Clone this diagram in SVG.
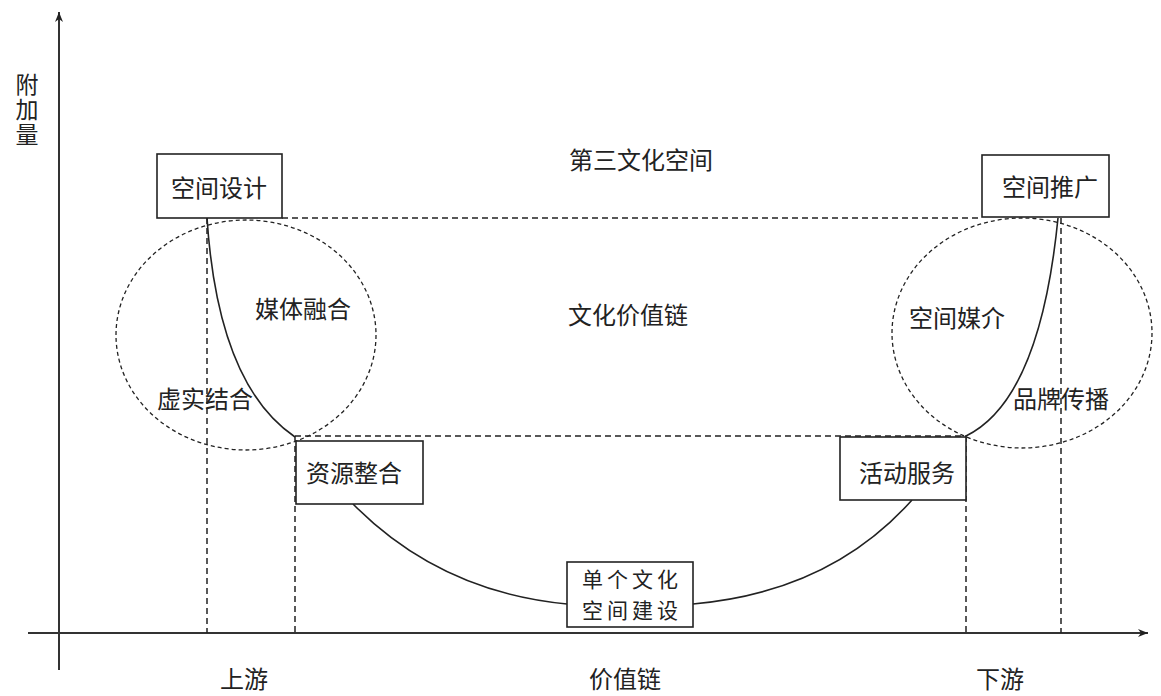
<svg xmlns="http://www.w3.org/2000/svg" width="1161" height="696" viewBox="0 0 1161 696">
<defs>
<marker id="arr" viewBox="0 0 10 10" refX="10" refY="5" markerWidth="10" markerHeight="10" markerUnits="userSpaceOnUse" orient="auto">
<path d="M0,1 L10,5 L0,9 L3,5 Z" fill="#222"/>
</marker>
<style>
.t{font-family:"Noto Sans CJK SC","Noto Sans",sans-serif;font-size:24px;fill:#222;text-anchor:middle;dominant-baseline:central}
.s{font-size:21px;letter-spacing:4px}
.v{font-family:"Noto Sans CJK SC","Noto Sans",sans-serif;font-size:23px;fill:#222;text-anchor:middle;writing-mode:vertical-rl;letter-spacing:2px}
.box{fill:#fff;stroke:#222;stroke-width:1.6}
.ax{stroke:#333;stroke-width:2;fill:none}
.dl{stroke:#222;stroke-width:1.5;stroke-dasharray:6,4;fill:none}
.dc{stroke:#222;stroke-width:1.3;stroke-dasharray:4,3;fill:none}
.cv{stroke:#222;stroke-width:1.6;fill:none}
</style>
</defs>
<rect width="1161" height="696" fill="#fff"/>
<g id="axes">
<line class="ax" x1="59" y1="670" x2="59" y2="12" marker-end="url(#arr)"/>
<line class="ax" x1="28" y1="633" x2="1148" y2="633" marker-end="url(#arr)"/>
<text class="v" x="27" y="110">附加量</text>
<text class="t" x="244" y="677">上游</text>
<text class="t" x="625" y="677">价值链</text>
<text class="t" x="1000" y="677">下游</text>
</g>
<g id="connectors">
<line class="dl" x1="282" y1="218" x2="982" y2="218"/>
<line class="dl" x1="295" y1="436" x2="966" y2="436"/>
<line class="dl" x1="207" y1="218" x2="207" y2="633"/>
<line class="dl" x1="295" y1="436" x2="295" y2="633"/>
<line class="dl" x1="966" y1="436" x2="966" y2="633"/>
<line class="dl" x1="1061" y1="218" x2="1061" y2="633"/>
<ellipse class="dc" cx="246" cy="335" rx="130" ry="115"/>
<ellipse class="dc" cx="1022" cy="333" rx="130" ry="115"/>
<path class="cv" d="M207,218 Q218,385 295,437"/>
<path class="cv" d="M966,436 Q1040,400 1058,218"/>
<path class="cv" d="M353,504 Q440,592 567,604"/>
<path class="cv" d="M693,604 Q830,592 912,500"/>
</g>
<g id="labels">
<text class="t" x="641" y="158">第三文化空间</text>
<text class="t" x="628" y="313">文化价值链</text>
<text class="t" x="303" y="307">媒体融合</text>
<text class="t" x="205" y="397">虚实结合</text>
<text class="t" x="957" y="316">空间媒介</text>
<text class="t" x="1061" y="397">品牌传播</text>
</g>
<g id="node-kongjiansheji">
<rect class="box" x="157" y="154" width="125" height="64"/>
<text class="t" x="219" y="186">空间设计</text>
</g>
<g id="node-kongjiantuiguang">
<rect class="box" x="982" y="155" width="127" height="62"/>
<text class="t" x="1050" y="185">空间推广</text>
</g>
<g id="node-ziyuanzhenghe">
<rect class="box" x="296" y="441" width="127" height="63"/>
<text class="t" x="354" y="471">资源整合</text>
</g>
<g id="node-huodongfuwu">
<rect class="box" x="840" y="437" width="126" height="63"/>
<text class="t" x="907" y="471">活动服务</text>
</g>
<g id="node-dange">
<rect class="box" x="567" y="562" width="126" height="65"/>
<text class="t s" x="632" y="578">单个文化<tspan x="632" dy="31">空间建设</tspan></text>
</g>
</svg>
